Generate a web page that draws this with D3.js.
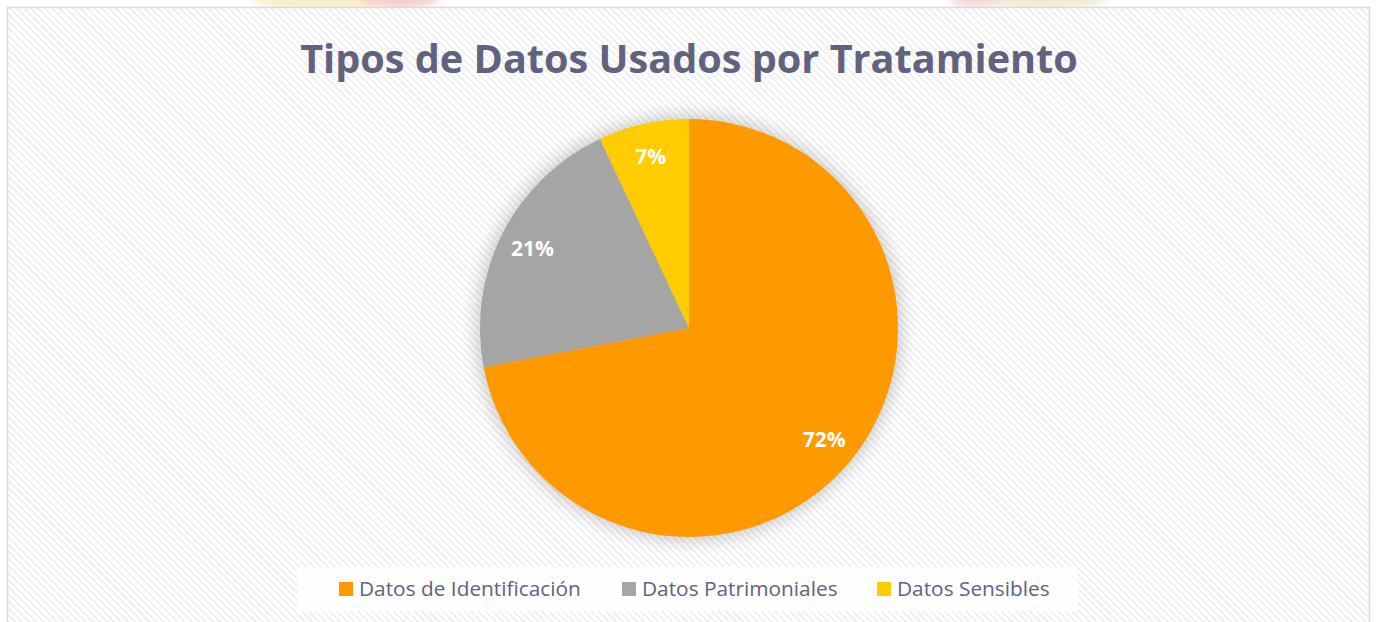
<!DOCTYPE html>
<html>
<head>
<meta charset="utf-8">
<script src="https://cdn.jsdelivr.net/npm/d3@7"></script>
<style>
  html, body { margin: 0; padding: 0; background: #fff; overflow: hidden; }
  svg { display: block; }
  text { font-family: "Open Sans", "Noto Sans", sans-serif; }
</style>
</head>
<body>
<div id="chart"></div>
<script>
// data
const categories = ['Datos de Identificación', 'Datos Patrimoniales', 'Datos Sensibles'];
const values = [72, 21, 7];
const colors = ['#ff9900', '#a5a5a5', '#ffcc00'];
const title = 'Tipos de Datos Usados por Tratamiento';

const W = 1377, H = 622;
const cx = 689, cy = 328, radius = 209;

const svg = d3.select('#chart').append('svg')
    .attr('width', W).attr('height', H);

const defs = svg.append('defs');
// faint diagonal hatch of the chart area
let pat = defs.append('pattern')
    .attr('id', 'hatch')
    .attr('patternUnits', 'userSpaceOnUse')
    .attr('width', 5).attr('height', 5)
    .attr('patternTransform', 'rotate(-45)');
pat.append('rect').attr('width', 5).attr('height', 5).attr('fill', '#ffffff');
pat.append('rect').attr('width', 2).attr('height', 5).attr('fill', '#efefef');

defs.append('filter').attr('id', 'glow')
    .attr('x', '-20%').attr('y', '-20%').attr('width', '140%').attr('height', '140%')
    .append('feGaussianBlur').attr('stdDeviation', 9);
defs.append('filter').attr('id', 'blur')
    .append('feGaussianBlur').attr('stdDeviation', 4);

// faded picture behind the top edge
let topDecor = svg.append('g').attr('filter', 'url(#blur)').attr('opacity', 0.35);
topDecor.append('ellipse').attr('cx', 330).attr('cy', -4).attr('rx', 80).attr('ry', 16).attr('fill', '#e8d060');
topDecor.append('ellipse').attr('cx', 400).attr('cy', -2).attr('rx', 40).attr('ry', 10).attr('fill', '#e07070');
topDecor.append('ellipse').attr('cx', 1040).attr('cy', -4).attr('rx', 70).attr('ry', 14).attr('fill', '#d8c878');
topDecor.append('ellipse').attr('cx', 975).attr('cy', -2).attr('rx', 25).attr('ry', 10).attr('fill', '#e09090');

// chart frame
svg.append('rect')
    .attr('x', 7.5).attr('y', 7.5)
    .attr('width', 1362).attr('height', 630)
    .attr('fill', 'url(#hatch)')
    .attr('stroke', '#d9d9e3').attr('stroke-width', 1.5);

// title, fitted to the width it takes in the reference
let titleText = svg.append('text')
    .attr('x', cx).attr('y', 73)
    .attr('text-anchor', 'middle')
    .attr('font-weight', 'bold')
    .attr('font-size', 40)
    .attr('fill', '#62627f')
    .text(title);
let tw = titleText.node().getComputedTextLength();
titleText.attr('font-size', 40 * 778 / tw);

// pie
const pie = d3.pie().sort(null).value(d => d);
const arcs = pie(values);
const arc = d3.arc().innerRadius(0).outerRadius(radius);
const labelArc = d3.arc().innerRadius(radius * 0.84).outerRadius(radius * 0.84);

let pieGroup = svg.append('g').attr('transform', `translate(${cx},${cy})`);
pieGroup.append('circle')
    .attr('r', radius + 2)
    .attr('fill', '#000').attr('opacity', 0.22)
    .attr('filter', 'url(#glow)');

pieGroup.selectAll('path.slice').data(arcs)
    .join('path').classed('slice', true)
    .attr('d', arc)
    .attr('fill', (d, i) => colors[i]);

pieGroup.selectAll('text.label').data(arcs)
    .join('text').classed('label', true)
    .attr('transform', d => `translate(${labelArc.centroid(d)})`)
    .attr('text-anchor', 'middle')
    .attr('dy', '0.35em')
    .attr('font-size', 21)
    .attr('font-weight', 'bold')
    .attr('fill', '#ffffff')
    .text(d => d.data + '%');

// legend
svg.append('rect')
    .attr('x', 297).attr('y', 567)
    .attr('width', 781).attr('height', 44)
    .attr('fill', '#ffffff').attr('opacity', 0.85);

const legendX = [339, 622, 877];
let legend = svg.selectAll('g.legend').data(categories)
    .join('g').classed('legend', true)
    .attr('transform', (d, i) => `translate(${legendX[i]},582)`);
legend.append('rect')
    .attr('width', 14).attr('height', 14)
    .attr('fill', (d, i) => colors[i]);
let legendText = legend.append('text')
    .attr('x', 20).attr('y', 7)
    .attr('dy', '0.35em')
    .attr('font-size', 20)
    .attr('fill', '#62627f')
    .text(d => d);
let lw = legendText.node().getComputedTextLength();
legendText.attr('font-size', 20 * 222 / lw);
</script>
</body>
</html>
